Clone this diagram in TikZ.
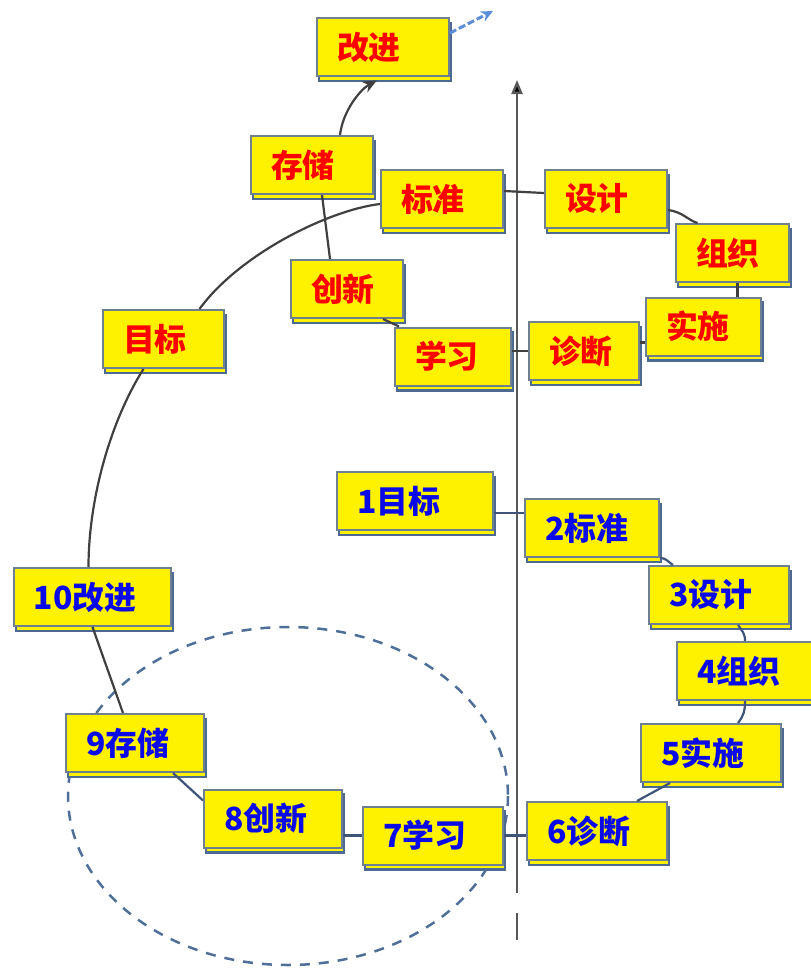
\documentclass[tikz,border=0pt]{standalone}
\usepackage{fontspec}
\newfontfamily\cjk{Noto Sans CJK SC}
\usetikzlibrary{arrows.meta,shadows}
\definecolor{boxline}{HTML}{6F7F92}
\definecolor{boxshade}{HTML}{4D6A93}
\definecolor{tagred}{HTML}{FF0000}
\definecolor{tagblue}{HTML}{0A0AE6}
\definecolor{linkgray}{HTML}{404040}
\definecolor{linkblue}{HTML}{3E5478}
\definecolor{ringblue}{HTML}{4F6F98}
\definecolor{arrowblue}{HTML}{5B8ED6}
\tikzset{
	tag/.style={draw=boxline, line width=2bp, fill=yellow, minimum height=58bp,
		inner xsep=20bp, inner ysep=0bp, align=left,
		font=\cjk\bfseries\fontsize{32}{38}\selectfont,
		copy shadow={shadow xshift=2bp, shadow yshift=-5bp, fill=yellow, draw=boxshade, line width=2.2bp}},
	redtag/.style={tag, text=tagred, text width=#1},
	bluetag/.style={tag, text=tagblue, text width=#1},
	uplink/.style={draw=linkgray, line width=2.2bp},
	lowlink/.style={draw=linkblue, line width=2.2bp}
}
\begin{document}
\begin{tikzpicture}[x=1bp, y=-1bp]
	\useasboundingbox (0,0) rectangle (811,968);
	% ring and axis
	\draw [ringblue, line width=2.5bp, dash pattern=on 10bp off 9bp] (288,796) ellipse (220 and 169);
	\coordinate (axbot) at (517,893);
	\coordinate (axtop) at (517,80);
	\draw [gray!70!black, line width=2.4bp, -{Triangle[length=14bp,width=11bp,fill=black]}] (axbot) -- (axtop);
	\draw [gray!70!black, line width=2.4bp] (517,913) -- (517,940);
	% upper loop
	\node [redtag=92bp] (gaijin) at (383,47) {改进};
	\node [redtag=82bp] (cunchu) at (312,165) {存储};
	\node [redtag=82bp] (biaozhun) at (442,199) {标准};
	\node [redtag=82bp] (sheji) at (606,199) {设计};
	\node [redtag=73bp] (zuzhi) at (732.5,253) {组织};
	\node [redtag=75bp] (shishi) at (703.5,326.5) {实施};
	\node [redtag=70bp] (zhenduan) at (584,351) {诊断};
	\node [redtag=76bp] (xuexi) at (453,356.5) {学习};
	\node [redtag=72bp] (chuangxin) at (347,289) {创新};
	\node [redtag=81bp] (mubiao) at (163.5,339) {目标};
	% lower loop
	\node [bluetag=116bp] (b1) at (415,501) {1目标};
	\node [bluetag=94bp] (b2) at (592,528) {2标准};
	\node [bluetag=100bp] (b3) at (719,595) {3设计};
	\node [bluetag=96bp] (b4) at (745,671) {4组织};
	\node [bluetag=100bp] (b5) at (711,753) {5实施};
	\node [bluetag=100bp] (b6) at (597,831) {6诊断};
	\node [bluetag=100bp] (b7) at (433,835.5) {7学习};
	\node [bluetag=98bp] (b8) at (273,818.5) {8创新};
	\node [bluetag=98bp] (b9) at (135,743) {9存储};
	\node [bluetag=117bp] (b10) at (92.5,597) {10改进};
	% upper links
	\draw [uplink] ([xshift=36bp]mubiao.north) .. controls +(40,-55) and +(-51,6) .. ([yshift=-5bp]biaozhun.west);
	\draw [uplink] ([yshift=8bp]biaozhun.east) -- ([yshift=6bp]sheji.west);
	\draw [uplink] ([yshift=-11bp]sheji.east) .. controls +(15,2) and +(-10,-3) .. ([xshift=-35bp]zuzhi.north);
	\draw [uplink] ([xshift=5bp]zuzhi.south) -- ([xshift=5bp]zuzhi.south |- shishi.north);
	\draw [uplink] ([yshift=-16bp]shishi.west) -- ([yshift=-16bp]shishi.west -| zhenduan.east);
	\draw [uplink] (zhenduan.west) -- (zhenduan.west -| xuexi.east);
	\draw [uplink] ([xshift=5bp]xuexi.north west) -- ([xshift=-21bp]chuangxin.south east);
	\draw [uplink] ([xshift=-17bp]chuangxin.north) -- ([xshift=10bp]cunchu.south);
	\draw [uplink, shorten >=7bp, -{Stealth[length=14bp,width=12bp]}] ([xshift=28bp]cunchu.north) .. controls +(3,-25) and +(-22,12) .. (gaijin.south);
	\coordinate (aim) at (493,11);
	\draw [arrowblue, line width=3bp, dash pattern=on 7bp off 3bp, -{Stealth[length=12bp,width=11bp]}] ([yshift=14bp]gaijin.east) -- (aim);
	% lower links
	\draw [uplink] ([xshift=-20bp]mubiao.south) .. controls +(-33,52) and +(0,-68) .. ([xshift=-4bp]b10.north);
	\draw [uplink] (b10.south) -- ([xshift=-12bp]b9.north);
	\draw [lowlink] ([xshift=38bp]b9.south) -- ([yshift=-12bp]b8.north west);
	\draw [lowlink] (b8.east |- b7.west) -- (b7.west);
	\draw [lowlink] (b7.east) -- (b7.east -| b6.west);
	\draw [lowlink] ([xshift=40bp]b6.north) -- ([xshift=-41bp]b5.south);
	\draw [lowlink] ([xshift=27bp]b5.north) .. controls +(6,-8) and +(0,10) .. (b4.south);
	\draw [lowlink] (b4.north) .. controls +(0,-8) and +(4,6) .. ([xshift=19bp]b3.south);
	\draw [lowlink] (b2.south east) .. controls +(6,0) and +(-6,-4) .. ([xshift=-46bp]b3.north);
	\draw [lowlink] ([yshift=-12bp]b1.east) -- ([yshift=-12bp]b1.east -| b2.west);
\end{tikzpicture}
\end{document}
